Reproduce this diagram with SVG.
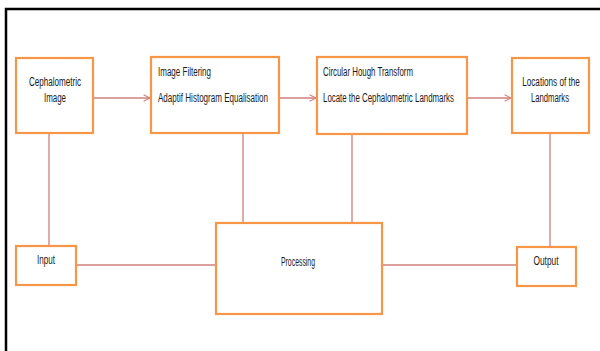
<svg xmlns="http://www.w3.org/2000/svg" width="600" height="351" viewBox="0 0 600 351">
<style>
.box{fill:#fff;stroke:#F79646;stroke-width:2.2}
.ln{stroke:#D07F7C;stroke-width:1.3;fill:none}
text{font-family:"Liberation Sans",Arial,sans-serif;font-size:12px;fill:#1a1a1a}
</style>
<defs>
<marker id="ah" viewBox="0 0 10 10" refX="9" refY="5" markerWidth="8" markerHeight="8" markerUnits="userSpaceOnUse" orient="auto">
<path d="M1,1 L9,5 L1,9" fill="none" stroke="#D07F7C" stroke-width="1.3"/>
</marker>
</defs>
<rect x="0" y="0" width="600" height="351" fill="#fff"/>
<path d="M6,351 V9 H600" fill="none" stroke="#000" stroke-width="2.5"/>
<g id="connectors">
<line class="ln" x1="93" y1="98" x2="150" y2="98" marker-end="url(#ah)"/>
<line class="ln" x1="279" y1="98" x2="316" y2="98" marker-end="url(#ah)"/>
<line class="ln" x1="467" y1="98" x2="511" y2="98" marker-end="url(#ah)"/>
<line class="ln" x1="49" y1="133" x2="49" y2="246"/>
<line class="ln" x1="243" y1="133" x2="243" y2="223"/>
<line class="ln" x1="352" y1="134" x2="352" y2="223"/>
<line class="ln" x1="550" y1="133" x2="550" y2="247"/>
<line class="ln" x1="76" y1="265" x2="216" y2="265"/>
<line class="ln" x1="382" y1="265" x2="517" y2="265"/>
</g>
<g id="ceph">
<rect class="box" x="16" y="58" width="77" height="75"/>
<text x="55" y="86" text-anchor="middle" textLength="52" lengthAdjust="spacingAndGlyphs">Cephalometric</text>
<text x="55" y="102" text-anchor="middle" textLength="22" lengthAdjust="spacingAndGlyphs">Image</text>
</g>
<g id="filter">
<rect class="box" x="151" y="57" width="128" height="76"/>
<text x="158" y="76" textLength="53" lengthAdjust="spacingAndGlyphs">Image Filtering</text>
<text x="158" y="102" textLength="110" lengthAdjust="spacingAndGlyphs">Adaptif Histogram Equalisation</text>
</g>
<g id="hough">
<rect class="box" x="317" y="57" width="150" height="77"/>
<text x="323" y="76" textLength="90" lengthAdjust="spacingAndGlyphs">Circular Hough Transform</text>
<text x="323" y="102" textLength="131" lengthAdjust="spacingAndGlyphs">Locate the Cephalometric Landmarks</text>
</g>
<g id="locations">
<rect class="box" x="512" y="58" width="77" height="75"/>
<text transform="translate(551,86) scale(0.68,1)" x="0" y="0" text-anchor="middle">Locations of the</text>
<text x="550" y="102" text-anchor="middle" textLength="38" lengthAdjust="spacingAndGlyphs">Landmarks</text>
</g>
<g id="input">
<rect class="box" x="16" y="246" width="60" height="39"/>
<text x="46" y="264" text-anchor="middle" textLength="18" lengthAdjust="spacingAndGlyphs">Input</text>
</g>
<g id="processing">
<rect class="box" x="216" y="223" width="166" height="91"/>
<text x="298" y="266" text-anchor="middle" textLength="34" lengthAdjust="spacingAndGlyphs">Processing</text>
</g>
<g id="output">
<rect class="box" x="517" y="247" width="59" height="39"/>
<text x="546" y="265" text-anchor="middle" textLength="25" lengthAdjust="spacingAndGlyphs">Output</text>
</g>
</svg>
